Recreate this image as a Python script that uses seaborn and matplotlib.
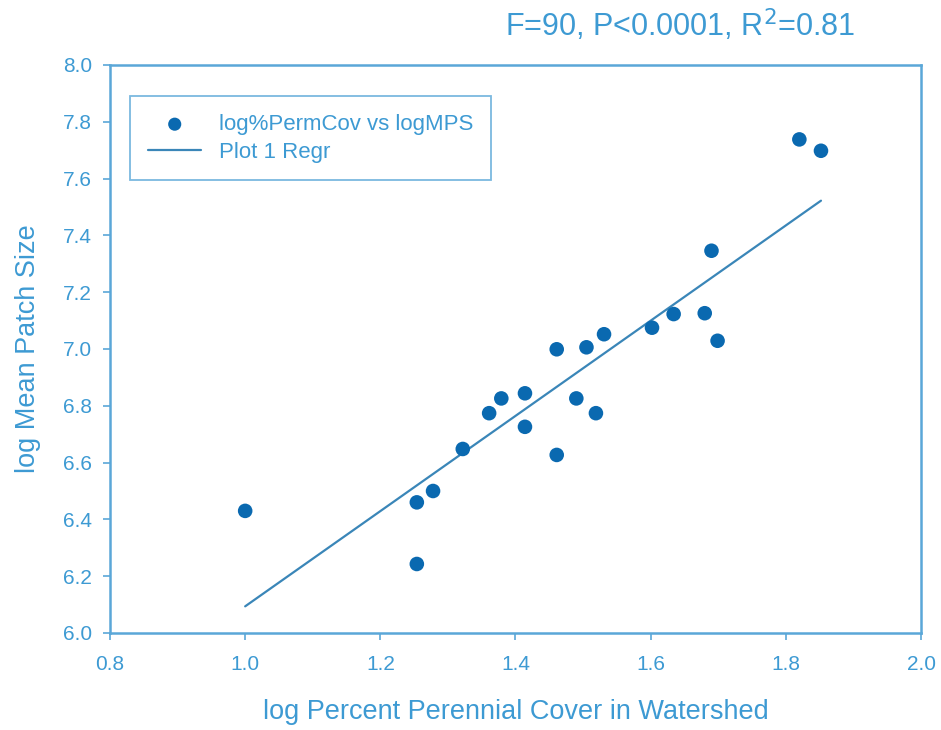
import numpy as np
import pandas as pd
import matplotlib
matplotlib.use("Agg")
import matplotlib.pyplot as plt
import seaborn as sns

# 데이터
log_perm_cov = [1.000, 1.254, 1.278, 1.254, 1.322, 1.361, 1.379, 1.414, 1.414,
                1.461, 1.461, 1.490, 1.505, 1.519, 1.531, 1.602, 1.634, 1.680,
                1.690, 1.699, 1.820, 1.852]
log_mps = [6.430, 6.460, 6.500, 6.243, 6.648, 6.774, 6.826, 6.844, 6.726,
           6.999, 6.627, 6.826, 7.006, 6.774, 7.052, 7.075, 7.123, 7.126,
           7.346, 7.029, 7.738, 7.698]
x_ticks = [0.8, 1.0, 1.2, 1.4, 1.6, 1.8, 2.0]
y_ticks = [6.0, 6.2, 6.4, 6.6, 6.8, 7.0, 7.2, 7.4, 7.6, 7.8, 8.0]

df = pd.DataFrame({'x': log_perm_cov, 'y': log_mps})

sns.set_style('white')
plt.rcParams['font.family'] = ['Liberation Sans', 'DejaVu Sans']

TEXT_C = '#3d9ad3'
SPINE_C = '#5aa7d8'
PT_C = '#0a69b0'
LINE_C = '#3a86b8'

fig = plt.figure(figsize=(9.41, 7.30), dpi=100)
ax = fig.add_axes([110 / 941, 97 / 730, 811 / 941, 568 / 730])

sns.scatterplot(data=df, x='x', y='y', ax=ax, s=110, color=PT_C, edgecolor='none',
                label='log%PermCov vs logMPS', zorder=3)
sns.regplot(data=df, x='x', y='y', ax=ax, ci=None, truncate=True, scatter=False,
            line_kws=dict(color=LINE_C, lw=1.6))
ax.lines[-1].set_label('Plot 1 Regr')

ax.set_xlim(0.8, 2.0)
ax.set_ylim(6.0, 8.0)
ax.set_xticks(x_ticks)
ax.set_yticks(y_ticks)
ax.set_xticklabels([f'{v:.1f}' for v in x_ticks])
ax.set_yticklabels([f'{v:.1f}' for v in y_ticks])

for s in ax.spines.values():
    s.set_color(SPINE_C)
    s.set_linewidth(1.8)
ax.tick_params(axis='both', which='both', direction='out', length=5, width=1.2,
               color=SPINE_C, labelcolor=TEXT_C, labelsize=15,
               bottom=True, left=True, top=False, right=False)
ax.tick_params(axis='x', pad=11)
ax.tick_params(axis='y', pad=8)

ax.set_xlabel('log Percent Perennial Cover in Watershed', fontsize=19.5, color=TEXT_C, labelpad=18)
ax.set_ylabel('log Mean Patch Size', fontsize=19.5, color=TEXT_C, labelpad=16)

leg = ax.legend(loc='upper left', bbox_to_anchor=(0.025, 0.945), frameon=True, fancybox=False,
                fontsize=16, handlelength=2.4, borderpad=0.8, labelspacing=0.3,
                handletextpad=0.8, borderaxespad=0, markerscale=0.9)
leg.get_frame().set_edgecolor(SPINE_C)
leg.get_frame().set_linewidth(1.3)
for t in leg.get_texts():
    t.set_color(TEXT_C)

fig.text(680 / 941, 1 - 25 / 730, 'F=90, P<0.0001, R$^2$=0.81', ha='center', va='center',
         fontsize=22, color=TEXT_C)

fig.savefig('out.png', dpi=100)
